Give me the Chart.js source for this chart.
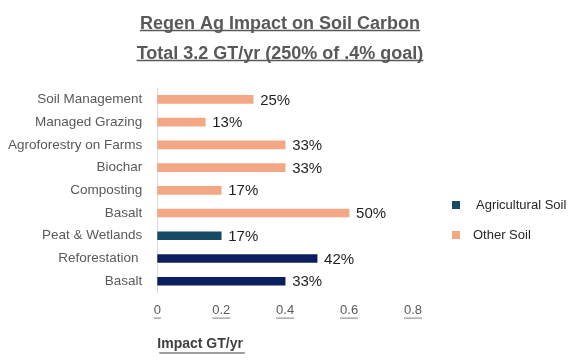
<!DOCTYPE html>
<html>
<head>
<meta charset="utf-8">
<script src="https://cdn.jsdelivr.net/npm/chart.js@4"></script>
<style>
  html, body { margin: 0; padding: 0; background: #fff; }
  #wrap { width: 585px; height: 362px; }
</style>
</head>
<body>
<div id="wrap"><canvas id="soilChart"></canvas></div>
<script>
const categories = ['Soil Management', 'Managed Grazing', 'Agroforestry on Farms', 'Biochar', 'Composting', 'Basalt', 'Peat & Wetlands', 'Reforestation ', 'Basalt']
const impact = [0.3, 0.15, 0.4, 0.4, 0.2, 0.6, 0.2, 0.5, 0.4]
const shareLabels = ['25%', '13%', '33%', '33%', '17%', '50%', '17%', '42%', '33%']
const soilType = ['other', 'other', 'other', 'other', 'other', 'other', 'ag', 'ag2', 'ag2']
const legendNames = ['Agricultural Soil', 'Other Soil']
const titleLines = ['Regen Ag Impact on Soil Carbon', 'Total 3.2 GT/yr (250% of .4% goal)']
const axisTitle = 'Impact GT/yr'

const colors = { other: '#F4A784', ag: '#174A63', ag2: '#0B1F5E' }
const legendColors = [colors.ag, colors.other]
const labelFont = '"Liberation Sans", Arial, sans-serif'
const titleCenter = 280
const titleWidth = 320

// percent labels at the end of each bar
const barLabels = {
  id: 'barLabels',
  afterDatasetsDraw(chart) {
    const ctx = chart.ctx
    const meta = chart.getDatasetMeta(0)
    ctx.save()
    ctx.font = '15px ' + labelFont
    ctx.fillStyle = '#1f1f1f'
    ctx.textBaseline = 'middle'
    meta.data.forEach((bar, i) => {
      ctx.fillText(shareLabels[i], bar.x + 7, bar.y + 1)
    })
    ctx.restore()
  }
}

// title sits over the whole picture, a bit left of centre
const titlePlace = {
  id: 'titlePlace',
  afterLayout(chart) {
    const tb = chart.titleBlock
    tb.left = titleCenter - titleWidth / 2
    tb.right = titleCenter + titleWidth / 2
    tb.width = titleWidth
  }
}

// underlines for title, x ticks and x axis title
const underlines = {
  id: 'underlines',
  afterDraw(chart) {
    const ctx = chart.ctx
    ctx.save()
    const tb = chart.titleBlock
    ctx.font = 'bold 18px ' + labelFont
    ctx.strokeStyle = '#595959'
    ctx.lineWidth = 1.5
    titleLines.forEach((line, i) => {
      const w = Math.min(ctx.measureText(line).width, titleWidth)
      const y = tb.top + tb.options.padding.top + 30 * i + 21.5
      ctx.beginPath()
      ctx.moveTo(titleCenter - w / 2, y)
      ctx.lineTo(titleCenter + w / 2, y)
      ctx.stroke()
    })

    const x = chart.scales.x
    ctx.font = '13px ' + labelFont
    ctx.lineWidth = 1
    ctx.strokeStyle = '#7f7f7f'
    x.ticks.forEach((t, i) => {
      const px = x.getPixelForTick(i)
      const w = ctx.measureText(String(t.label)).width
      const y = x.top + 10 + 15.5
      ctx.beginPath()
      ctx.moveTo(px - w / 2, y)
      ctx.lineTo(px + w / 2, y)
      ctx.stroke()
    })

    ctx.font = 'bold 14px ' + labelFont
    ctx.strokeStyle = '#404040'
    const aw = ctx.measureText(axisTitle).width
    const ay = x.bottom - 9 - 8 + 8
    ctx.beginPath()
    ctx.moveTo(chart.chartArea.left + 2, ay)
    ctx.lineTo(chart.chartArea.left + 2 + aw, ay)
    ctx.stroke()
    ctx.restore()
  }
}

// legend on the right side
const sideLegend = {
  id: 'sideLegend',
  afterDraw(chart) {
    const ctx = chart.ctx
    const area = chart.chartArea
    ctx.save()
    ctx.font = '13px ' + labelFont
    ctx.textBaseline = 'middle'
    legendNames.forEach((name, i) => {
      const x = area.right + 39
      const y = area.top + 117 + i * 30
      ctx.fillStyle = legendColors[i]
      ctx.fillRect(x, y - 4, 8, 8)
      ctx.fillStyle = '#262626'
      ctx.fillText(name, x + 24 - i * 3, y)
    })
    ctx.restore()
  }
}

new Chart(document.getElementById('soilChart'), {
  type: 'bar',
  data: {
    labels: categories,
    datasets: [{
      data: impact,
      backgroundColor: soilType.map(t => colors[t]),
      borderWidth: 0,
      barThickness: 8
    }]
  },
  options: {
    indexAxis: 'y',
    responsive: true,
    maintainAspectRatio: false,
    animation: false,
    layout: { padding: { left: 8, right: 172, top: 0, bottom: 0 } },
    plugins: {
      legend: { display: false },
      tooltip: { enabled: false },
      title: {
        display: true,
        fullSize: false,
        text: titleLines,
        color: '#595959',
        font: { family: labelFont, size: 18, weight: 'bold', lineHeight: 30 / 18 },
        padding: { top: 9, bottom: 19 }
      }
    },
    scales: {
      x: {
        min: 0,
        max: 0.8,
        ticks: {
          stepSize: 0.2,
          color: '#595959',
          padding: 10,
          font: { family: labelFont, size: 13 },
          callback: v => String(Math.round(v * 10) / 10)
        },
        grid: { display: false, drawTicks: false },
        border: { display: false },
        title: {
          display: true,
          text: axisTitle,
          align: 'start',
          color: '#404040',
          font: { family: labelFont, size: 14, weight: 'bold' },
          padding: { top: 8, bottom: 9 }
        }
      },
      y: {
        afterFit: scale => { scale.width -= scale.options.ticks.padding },
        ticks: {
          color: '#595959',
          padding: 15,
          font: { family: labelFont, size: 13.5 }
        },
        grid: { display: false, drawTicks: false },
        border: { display: true, color: '#d9d9d9', width: 1 }
      }
    }
  },
  plugins: [titlePlace, barLabels, underlines, sideLegend]
})
</script>
</body>
</html>
